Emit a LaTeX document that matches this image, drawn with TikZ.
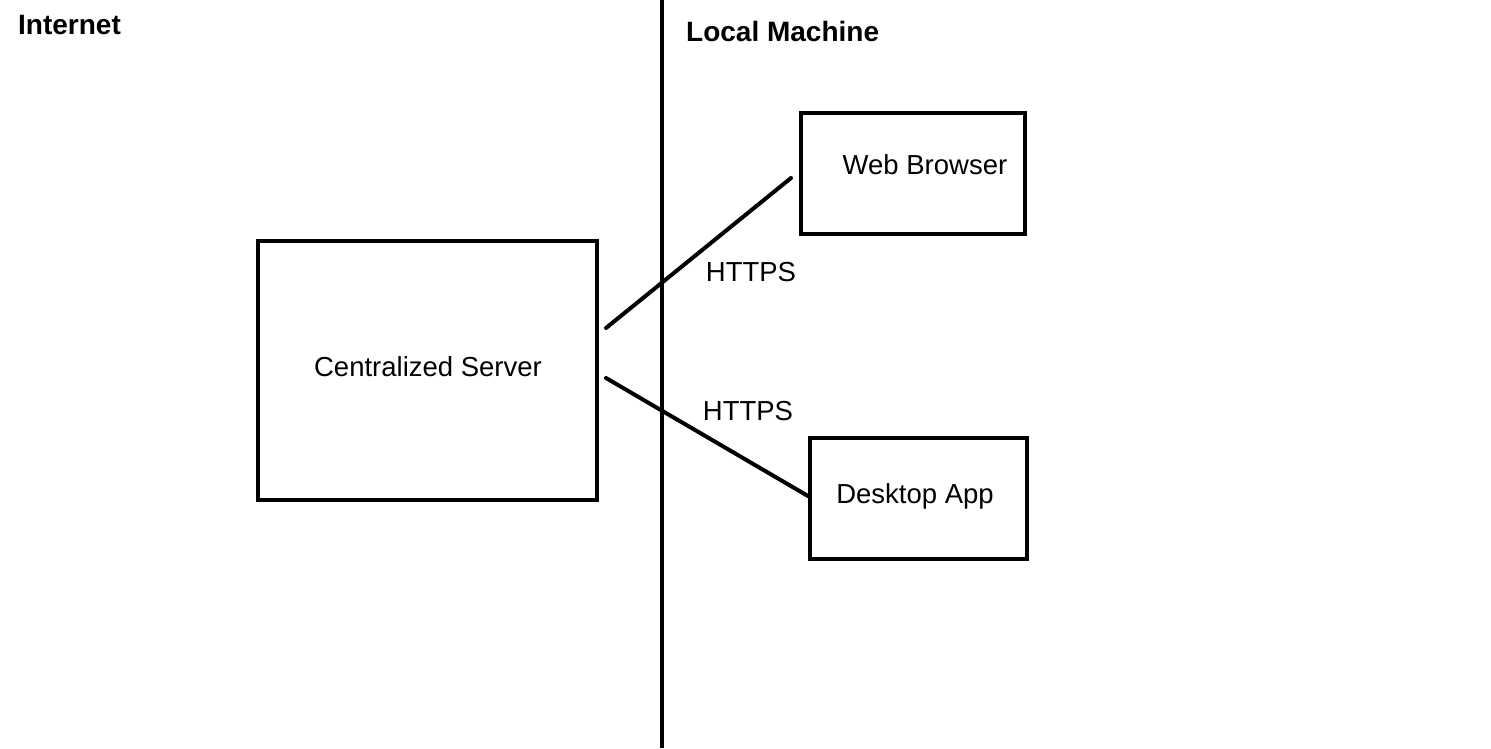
\documentclass[tikz,border=0pt]{standalone}
\usepackage{fontspec}
\setmainfont{Liberation Sans}
\begin{document}
\begin{tikzpicture}[x=1pt,y=-1pt,
  box/.style={draw,line width=4pt,rectangle,inner sep=0pt},
  conn/.style={line width=4pt,line cap=round},
  lbl/.style={inner sep=0pt,font=\fontsize{27.5}{32}\selectfont},
  hdr/.style={inner sep=0pt,font=\fontsize{28}{33}\selectfont\bfseries}]
\useasboundingbox (0,0) rectangle (1491,748);
% divider
\coordinate (dtop) at (662,0);
\coordinate (dbot) at (662,748);
\draw[line width=4pt] (dtop) -- (dbot);
% headers
\node[hdr,anchor=west] (internet) at (18,25) {Internet};
\node[hdr,anchor=west] (local) at (686,31) {Local Machine};
% boxes
\node[box,minimum width=339pt,minimum height=259pt] (server) at (427.5,370.5) {};
\node[box,minimum width=224pt,minimum height=121pt] (web) at (913,173.5) {};
\node[box,minimum width=217pt,minimum height=121pt] (desk) at (918.5,498.5) {};
% box texts
\node[lbl] (servertext) at (428,367) {Centralized Server};
\node[lbl] (webtext) at (925,165) {Web Browser};
\node[lbl] (desktext) at (915,496) {Desktop App};
% connectors
\coordinate (s1) at (606,328);
\coordinate (w1) at (791,178);
\coordinate (s2) at (606,378);
\coordinate (d1) at (808,496);
\draw[conn] (s1) -- (w1);
\draw[conn] (s2) -- (d1);
\node[lbl] (https1) at (751,272) {HTTPS};
\node[lbl] (https2) at (748,411) {HTTPS};
\end{tikzpicture}
\end{document}
